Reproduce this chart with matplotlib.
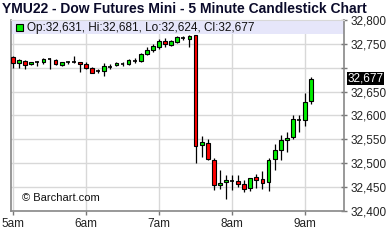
import matplotlib
matplotlib.use("Agg")
import matplotlib.pyplot as plt
from matplotlib.patches import Rectangle
from matplotlib.ticker import FuncFormatter
import numpy as np

plt.rcParams['font.family'] = ['Liberation Sans', 'DejaVu Sans']

# 5 minute bars from 5:00 to 9:05
opens = [32723, 32709, 32714, 32708, 32712, 32713, 32718, 32717, 32705, 32712,
         32712, 32711, 32707, 32700, 32694, 32693, 32701, 32705, 32708, 32707,
         32715, 32715, 32728, 32737, 32744, 32756, 32748, 32754, 32762, 32761,
         32769, 32538, 32543, 32506, 32455, 32460, 32463, 32462, 32456, 32448,
         32471, 32467, 32460, 32509, 32528, 32549, 32556, 32590, 32591, 32631]
highs = [32724, 32719, 32716, 32713, 32714, 32721, 32721, 32719, 32713, 32714,
         32725, 32711, 32711, 32702, 32697, 32709, 32707, 32712, 32712, 32719,
         32720, 32730, 32744, 32749, 32760, 32763, 32758, 32767, 32766, 32768,
         32769, 32557, 32551, 32511, 32486, 32475, 32476, 32476, 32465, 32469,
         32477, 32484, 32512, 32541, 32560, 32565, 32602, 32600, 32648, 32681]
lows = [32700, 32700, 32698, 32706, 32704, 32707, 32698, 32706, 32703, 32707,
        32710, 32691, 32698, 32688, 32688, 32683, 32698, 32703, 32704, 32706,
        32710, 32713, 32726, 32733, 32740, 32744, 32746, 32751, 32759, 32744,
        32500, 32513, 32506, 32444, 32446, 32426, 32444, 32451, 32440, 32442,
        32448, 32446, 32441, 32486, 32507, 32523, 32551, 32565, 32579, 32624]
closes = [32709, 32717, 32705, 32712, 32712, 32719, 32718, 32708, 32712, 32712,
          32712, 32707, 32700, 32689, 32694, 32704, 32701, 32709, 32708, 32717,
          32715, 32728, 32738, 32746, 32756, 32749, 32756, 32765, 32762, 32767,
          32536, 32545, 32509, 32455, 32459, 32465, 32463, 32456, 32446, 32469,
          32465, 32458, 32507, 32528, 32549, 32553, 32593, 32590, 32628, 32677]

hour_ticks = [0, 12, 24, 36, 48]
hour_labels = ['5am', '6am', '7am', '8am', '9am']
price_ticks = [32400, 32450, 32500, 32550, 32600, 32650, 32700, 32750, 32800]

title = 'YMU22 - Dow Futures Mini - 5 Minute Candlestick Chart'
legend_text = 'Op:32,631, Hi:32,681, Lo:32,624, Cl:32,677'

fig = plt.figure(figsize=(3.86, 2.52), dpi=100)
ax = fig.add_axes([11 / 386, 41 / 252, 333 / 386, 191 / 252])

x = np.arange(len(opens))
o = np.array(opens)
c = np.array(closes)

# wicks
ax.vlines(x, lows, highs, color='black', lw=0.9, zorder=2)

# bodies
w = 0.62
up = c > o
down = c < o
flat = c == o
ax.bar(x[up], (c - o)[up], bottom=o[up], width=w, color='#00ee00',
       edgecolor='black', lw=0.8, zorder=3)
ax.bar(x[down], (o - c)[down], bottom=c[down], width=w, color='#ff0000',
       edgecolor='black', lw=0.8, zorder=3)
ax.hlines(c[flat], x[flat] - w / 2, x[flat] + w / 2, color='black', lw=1.2, zorder=3)

ax.set_xlim(-0.33, 54.4)
ax.set_ylim(32400, 32800)

# grid
ax.set_xticks(hour_ticks)
ax.set_xticklabels(hour_labels)
ax.set_yticks(price_ticks)
ax.grid(True, color='#d8d8d8', lw=1, zorder=0)
ax.set_axisbelow(True)

ax.yaxis.tick_right()
ax.yaxis.set_major_formatter(FuncFormatter(
    lambda v, p: '' if v == 32700 else f'{int(v):,}'))
ax.tick_params(axis='y', direction='inout', length=5, pad=2, labelsize=8.5,
               colors='#222222', width=1)
ax.tick_params(axis='x', direction='out', length=3, pad=2, labelsize=8.5,
               colors='#222222', width=1)
ax.tick_params(axis='y', color='#777777')
ax.tick_params(axis='x', color='#777777')

for s in ['left', 'bottom', 'right']:
    ax.spines[s].set_color('#888888')
    ax.spines[s].set_linewidth(1.2)
ax.spines['top'].set_color('#d8d8d8')

# legend band
band_h = 14 / 191
ax.add_patch(Rectangle((0, 1 - band_h), 1, band_h, transform=ax.transAxes,
                       facecolor='#e6e6fa', edgecolor='none', zorder=1))
ax.add_patch(Rectangle((5 / 333, 1 - 11 / 191), 7 / 333, 7 / 191,
                       transform=ax.transAxes, facecolor='#00ee00',
                       edgecolor='black', lw=0.8, zorder=4))
ax.text(16 / 333, 1 - 7.5 / 191, legend_text, transform=ax.transAxes,
        fontsize=8.5, va='center', ha='left', color='#111111', zorder=4)

ax.text(11 / 333, 13 / 191, '\u00a9 Barchart.com', transform=ax.transAxes,
        fontsize=8, va='center', ha='left', color='#111111')

# last price marker
ax.text(1.01, closes[-1], f'{closes[-1]:,}', transform=ax.get_yaxis_transform(),
        fontsize=8.5, va='center', ha='left', color='white',
        bbox=dict(boxstyle='square,pad=0.05', facecolor='black', edgecolor='none'))

fig.text(2 / 386, 1 - 9 / 252, title, fontsize=10, fontweight='bold',
         va='center', ha='left', color='#0a0a2a')

fig.savefig('out.png', dpi=100)
